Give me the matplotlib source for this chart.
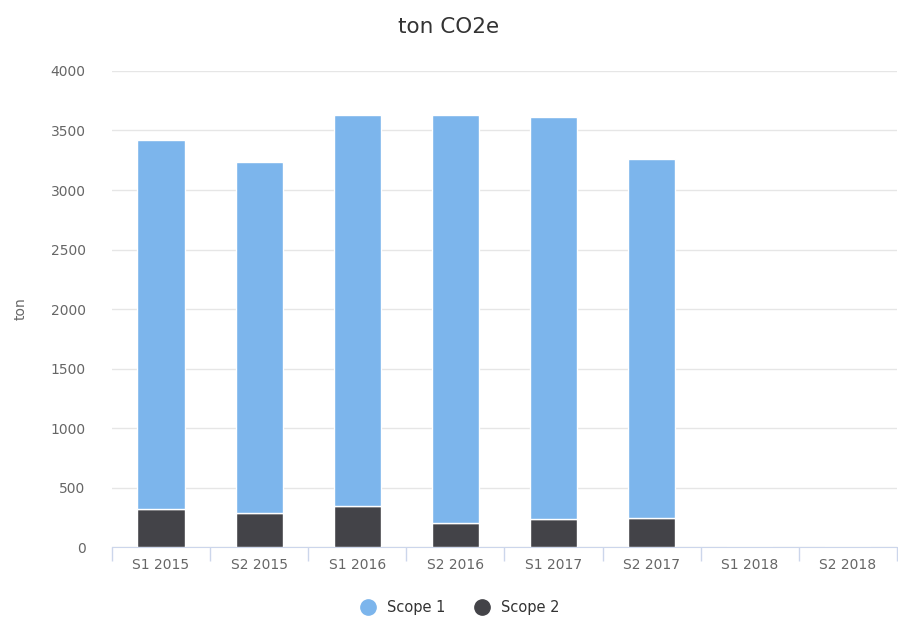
import numpy as np
import matplotlib.pyplot as plt
from matplotlib.lines import Line2D

# 数据
categories = ['S1 2015', 'S2 2015', 'S1 2016', 'S2 2016', 'S1 2017', 'S2 2017', 'S1 2018', 'S2 2018']
scope1 = [3096, 2945, 3281, 3424, 3380, 3018, 0, 0]
scope2 = [322, 288, 345, 202, 235, 246, 0, 0]

c1 = '#7cb5ec'
c2 = '#434348'

fig = plt.figure(figsize=(8.98, 6.17), dpi=100)
ax = fig.add_axes([0.1247, 0.113, 0.874, 0.772])

x = np.arange(len(categories))
ax.bar(x, scope2, width=0.48, color=c2, edgecolor='white', linewidth=1, zorder=3)
ax.bar(x, scope1, width=0.48, bottom=scope2, color=c1, edgecolor='white', linewidth=1, zorder=3)

ax.set_xlim(-0.5, len(categories) - 0.5)
ax.set_ylim(0, 4000)
ax.set_yticks(np.arange(0, 4001, 500))
ax.grid(axis='y', color='#e6e6e6', linewidth=1, zorder=0)

# x轴刻度放在类别之间
ax.set_xticks(x)
ax.set_xticklabels(categories)
ax.set_xticks(np.arange(-0.5, len(categories), 1), minor=True)
ax.tick_params(axis='x', which='major', length=0, pad=8, labelsize=10, labelcolor='#666666')
ax.tick_params(axis='x', which='minor', length=10, color='#ccd6eb', width=1)
ax.tick_params(axis='y', length=0, pad=19, labelsize=10, labelcolor='#666666')

for s in ['top', 'right', 'left']:
    ax.spines[s].set_visible(False)
ax.spines['bottom'].set_color('#ccd6eb')

ax.set_ylabel('ton', color='#666666', fontsize=10)
ax.yaxis.set_label_coords(-0.108, 0.5)
fig.suptitle('ton CO2e', fontsize=15.5, color='#333333', y=0.972)

handles = [Line2D([], [], marker='o', linestyle='', markersize=11, color=c1),
           Line2D([], [], marker='o', linestyle='', markersize=11, color=c2)]
fig.legend(handles, ['Scope 1', 'Scope 2'], loc='lower center', bbox_to_anchor=(0.508, -0.018),
           ncol=2, frameon=False, fontsize=10.5, handletextpad=0.3, columnspacing=1.5,
           labelcolor='#333333')

plt.savefig('out.png', dpi=100)
